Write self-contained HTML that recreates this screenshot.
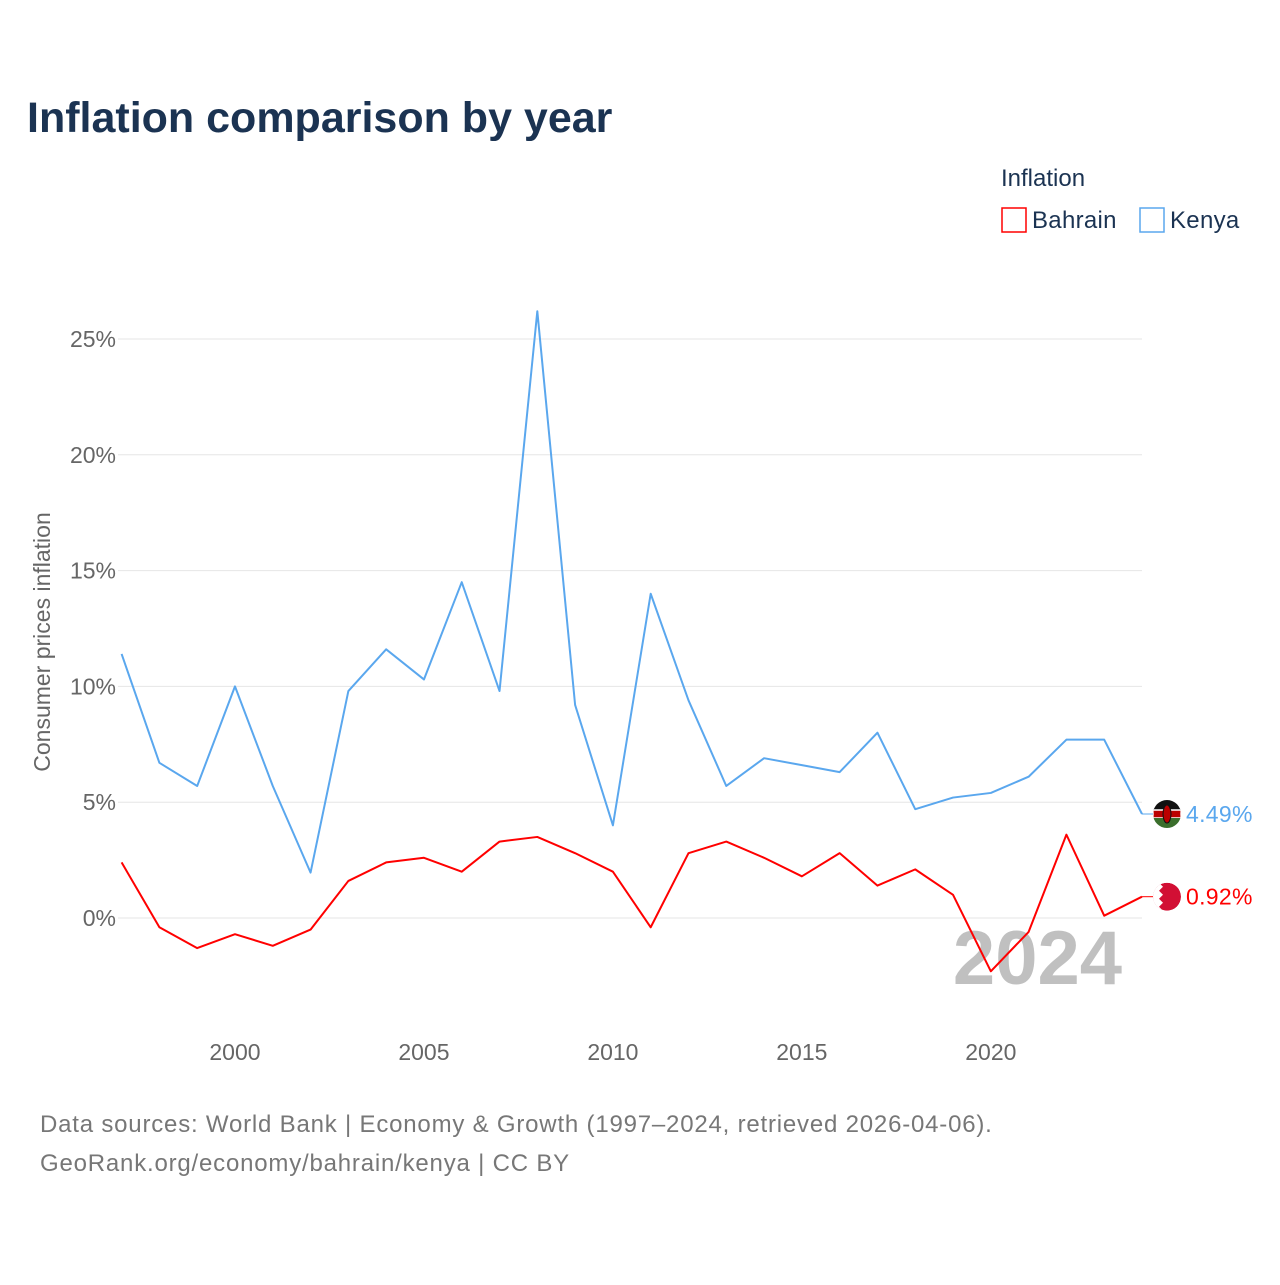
<!DOCTYPE html>
<html><head><meta charset="utf-8">
<style>
body{margin:0;background:#fff;font-family:"Liberation Sans",sans-serif;}
svg text{font-family:"Liberation Sans",sans-serif;}
</style></head>
<body>
<svg id="chart" width="1280" height="1280" xmlns="http://www.w3.org/2000/svg">
<defs id="defs"></defs>
<rect width="1280" height="1280" fill="#fff"/>
<text x="27" y="132" font-size="43" font-weight="bold" fill="#1b3352">Inflation comparison by year</text>
<text x="1001" y="186" font-size="24" fill="#1b3352">Inflation</text>
<g>
<rect x="1002" y="208" width="24" height="24" fill="none" stroke="#ff0000" stroke-width="1.5"/>
<text x="1032" y="228" font-size="24" fill="#1b3352" letter-spacing="0.3">Bahrain</text></g>
<g>
<rect x="1140" y="208" width="24" height="24" fill="none" stroke="#5aa7ee" stroke-width="1.5"/>
<text x="1170" y="228" font-size="24" fill="#1b3352" letter-spacing="0.3">Kenya</text></g>
<text transform="translate(50,642) rotate(-90)" text-anchor="middle" font-size="23" fill="#666">Consumer prices inflation</text>
<g id="grid"></g><g id="xt"></g>
<text x="1122" y="984" text-anchor="end" font-size="76" font-weight="bold" fill="#c0c0c0">2024</text>
<g id="series"></g>
<text x="40" y="1132" font-size="24" fill="#777" letter-spacing="0.8">Data sources: World Bank | Economy &amp; Growth (1997–2024, retrieved 2026-04-06).</text>
<text x="40" y="1171" font-size="24" fill="#777" letter-spacing="0.8">GeoRank.org/economy/bahrain/kenya | CC BY</text>
</svg>
<script>
const years=[1997,1998,1999,2000,2001,2002,2003,2004,2005,2006,2007,2008,2009,2010,2011,2012,2013,2014,2015,2016,2017,2018,2019,2020,2021,2022,2023,2024];
const kenya=[11.4,6.7,5.7,10.0,5.7,1.96,9.8,11.6,10.3,14.5,9.8,26.2,9.2,4.0,14.0,9.4,5.7,6.9,6.6,6.3,8.0,4.7,5.2,5.4,6.1,7.7,7.7,4.49];
const bahrain=[2.4,-0.4,-1.3,-0.7,-1.2,-0.5,1.6,2.4,2.6,2.0,3.3,3.5,2.8,2.0,-0.4,2.8,3.3,2.6,1.8,2.8,1.4,2.1,1.0,-2.3,-0.6,3.6,0.1,0.92];
const yTicks=[0,5,10,15,20,25];
const xTicks=[2000,2005,2010,2015,2020];
const NS="http://www.w3.org/2000/svg";
const X=y=>121.6+(y-1997)*(1142-121.6)/27;
const Y=v=>918-v*23.16;
function mk(t,a,p){const e=document.createElementNS(NS,t);for(const k in a)e.setAttribute(k,a[k]);p.appendChild(e);return e;}
const grid=document.getElementById('grid'),xt=document.getElementById('xt'),s=document.getElementById('series'),defs=document.getElementById('defs');
yTicks.forEach(v=>{
 const l=mk('line',{x1:118,x2:1142,y1:Y(v),y2:Y(v),stroke:'#e6e6e6','stroke-width':1},grid);
 
 
 const t=mk('text',{x:116,y:Y(v)+8,'text-anchor':'end','font-size':23,fill:'#666'},grid);
 t.textContent=v+'%';
 
 
});
xTicks.forEach(v=>{
 const t=mk('text',{x:X(v),y:1060,'text-anchor':'middle','font-size':23,fill:'#666'},xt);
 t.textContent=v;
 
 
});
function line(vals,col,name){
 const p=mk('polyline',{points:vals.map((v,i)=>X(years[i])+','+Y(v)).join(' '),fill:'none',stroke:col,'stroke-width':2,'stroke-linejoin':'round'},s);
 
 
 const last=vals[vals.length-1];
 const cy=Y(last);
 mk('line',{x1:X(2024),x2:1154,y1:cy,y2:cy,stroke:col,'stroke-width':1},s);
 const cp=mk('clipPath',{id:name+'-clip'},defs);
 mk('circle',{cx:1167,cy:cy,r:14},cp);
 const g=mk('g',{'clip-path':'url(#'+name+'-clip)'},s);
 
 
 if(name.includes('kenya')){
  mk('rect',{x:1153,y:cy-14,width:28,height:10,fill:'#111'},g);
  mk('rect',{x:1153,y:cy-4,width:28,height:8,fill:'#bb0000',stroke:'#fff','stroke-width':1.5},g);
  mk('rect',{x:1153,y:cy+4,width:28,height:10,fill:'#3a6e2c'},g);
  mk('ellipse',{cx:1167,cy:cy,rx:4,ry:9,fill:'#bb0000',stroke:'#111','stroke-width':1},g);
 }else{
  mk('circle',{cx:1167,cy:cy,r:14,fill:'#d20f34'},g);
  mk('path',{d:`M1153 ${cy-14} L1159 ${cy-14} L1163 ${cy-10} L1159 ${cy-6} L1163 ${cy-2} L1159 ${cy+2} L1163 ${cy+6} L1159 ${cy+10} L1163 ${cy+14} L1153 ${cy+14} Z`,fill:'#fff'},g);
 }
 const t=mk('text',{x:1186,y:cy+8,'font-size':23,fill:col,'letter-spacing':0.3},s);
 t.textContent=last.toFixed(2)+'%';
 
 
}
line(kenya,'#5aa7ee','kenya-line');
line(bahrain,'#ff0000','bahrain-line');
</script>
</body></html>
